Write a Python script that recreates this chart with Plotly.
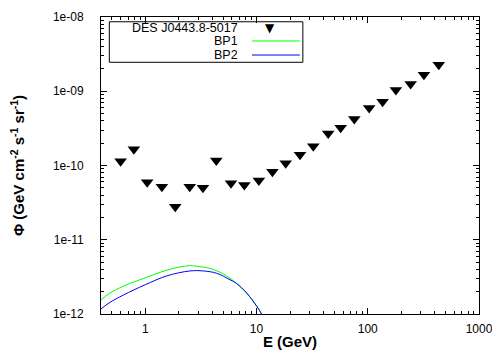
import numpy as np
import plotly.graph_objects as go

# DES J0443.8-5017 upper limits
energy = [0.60, 0.79, 1.04, 1.41, 1.86, 2.51, 3.30, 4.35, 5.90, 7.77, 10.5, 13.9,
          18.3, 24.6, 32.4, 44.1, 57.1, 75.7, 103, 136, 179, 243, 320, 435]
flux = [1.14e-10, 1.65e-10, 5.94e-11, 5.19e-11, 2.79e-11, 5.19e-11, 5.03e-11, 1.17e-10,
        5.76e-11, 5.47e-11, 6.26e-11, 8.27e-11, 1.07e-10, 1.40e-10, 1.82e-10, 2.70e-10,
        3.23e-10, 4.22e-10, 5.94e-10, 7.23e-10, 1.04e-09, 1.25e-09, 1.67e-09, 2.27e-09]

# model curves
bp1_e = [0.40, 0.48, 0.635, 1.0, 1.56, 2.36, 3.10, 4.09, 5.39, 6.64, 8.17, 10.05, 11.1, 12.0]
bp1_f = [1.55e-12, 1.91e-12, 2.37e-12, 3.07e-12, 3.89e-12, 4.45e-12, 4.35e-12, 3.98e-12,
         3.26e-12, 2.57e-12, 1.91e-12, 1.27e-12, 1.0e-12, 7.5e-13]
bp2_e = [0.40, 0.48, 0.635, 1.0, 1.56, 2.52, 3.32, 4.38, 5.78, 6.64, 8.17, 10.05, 11.1, 12.0]
bp2_f = [1.17e-12, 1.43e-12, 1.80e-12, 2.48e-12, 3.26e-12, 3.80e-12, 3.80e-12, 3.54e-12,
         2.89e-12, 2.57e-12, 1.91e-12, 1.27e-12, 1.0e-12, 7.5e-13]

x_ticks = [1, 10, 100, 1000]
x_labels = ["1", "10", "100", "1000"]
y_ticks = [1e-12, 1e-11, 1e-10, 1e-9, 1e-8]
y_labels = ["1e-12", "1e-11", "1e-10", "1e-09", "1e-08"]

FONT = "Liberation Sans, Arial, sans-serif"


def minor_vals(lo, hi):
    return [m * 10.0 ** d for d in range(lo, hi) for m in range(2, 10)]


fig = go.Figure()
fig.add_trace(go.Scatter(x=bp1_e, y=bp1_f, mode="lines", line=dict(color="#00ff00", width=1, shape="spline"),
                         name="BP1", showlegend=False))
fig.add_trace(go.Scatter(x=bp2_e, y=bp2_f, mode="lines", line=dict(color="#0000ff", width=1, shape="spline"),
                         name="BP2", showlegend=False))
fig.add_trace(go.Scatter(x=energy, y=flux, mode="markers",
                         marker=dict(symbol="triangle-down", size=11, color="black"),
                         name="DES J0443.8-5017", showlegend=False))

axis_common = dict(
    showgrid=False, zeroline=False, showline=True, linecolor="black", linewidth=1,
    mirror="allticks", ticks="inside", ticklen=6, tickcolor="black", automargin=False,
    tickfont=dict(family=FONT, size=12, color="black"),
)
fig.update_xaxes(type="log", range=[np.log10(0.4), 3], tickvals=x_ticks, ticktext=x_labels,
                 minor=dict(tickvals=minor_vals(-1, 3), ticks="inside", ticklen=3, tickcolor="black"),
                 title=dict(text="<b>E (GeV)</b>", font=dict(family=FONT, size=15, color="black"), standoff=6),
                 ticklabelstandoff=4, **axis_common)
fig.update_yaxes(type="log", range=[-12, -8], tickvals=y_ticks, ticktext=y_labels,
                 minor=dict(tickvals=minor_vals(-12, -8), ticks="inside", ticklen=3, tickcolor="black"),
                 title=dict(text="<b>Φ (GeV cm<sup>-2</sup> s<sup>-1</sup> sr<sup>-1</sup>)</b>",
                            font=dict(family=FONT, size=15, color="black"), standoff=26),
                 ticklabelstandoff=14, **axis_common)

# legend box drawn by hand (gnuplot style: text then sample)
fig.add_shape(type="rect", xref="paper", yref="paper", x0=0.022, x1=0.534, y0=0.8475, y1=0.984,
              line=dict(color="black", width=1), fillcolor="white", layer="below")
rows = [("DES J0443.8-5017", 0.963), ("BP1", 0.9192), ("BP2", 0.872)]
for label, yy in rows:
    fig.add_annotation(x=0.368, y=yy, xref="paper", yref="paper", text=label, showarrow=False,
                       xanchor="right", yanchor="middle", height=12,
                       font=dict(family=FONT, size=12.5, color="black"))
fig.add_annotation(x=0.447, y=0.963, xref="paper", yref="paper", text="▼", showarrow=False,
                   xanchor="center", yanchor="middle", font=dict(family="DejaVu Sans", size=12, color="black"))
for color, yy in [("#00ff00", 0.9192), ("#0000ff", 0.872)]:
    fig.add_shape(type="line", xref="paper", yref="paper", x0=0.3995, x1=0.526, y0=yy, y1=yy,
                  line=dict(color=color, width=1))

# page body adds 8px margin, so size/margins are trimmed to keep the frame in place
fig.update_layout(
    width=492, height=342, template="plotly_white",
    plot_bgcolor="white", paper_bgcolor="white",
    margin=dict(l=93, r=21, t=9, b=36),
    font=dict(family=FONT, color="black"),
)
fig.write_html("out.html")
